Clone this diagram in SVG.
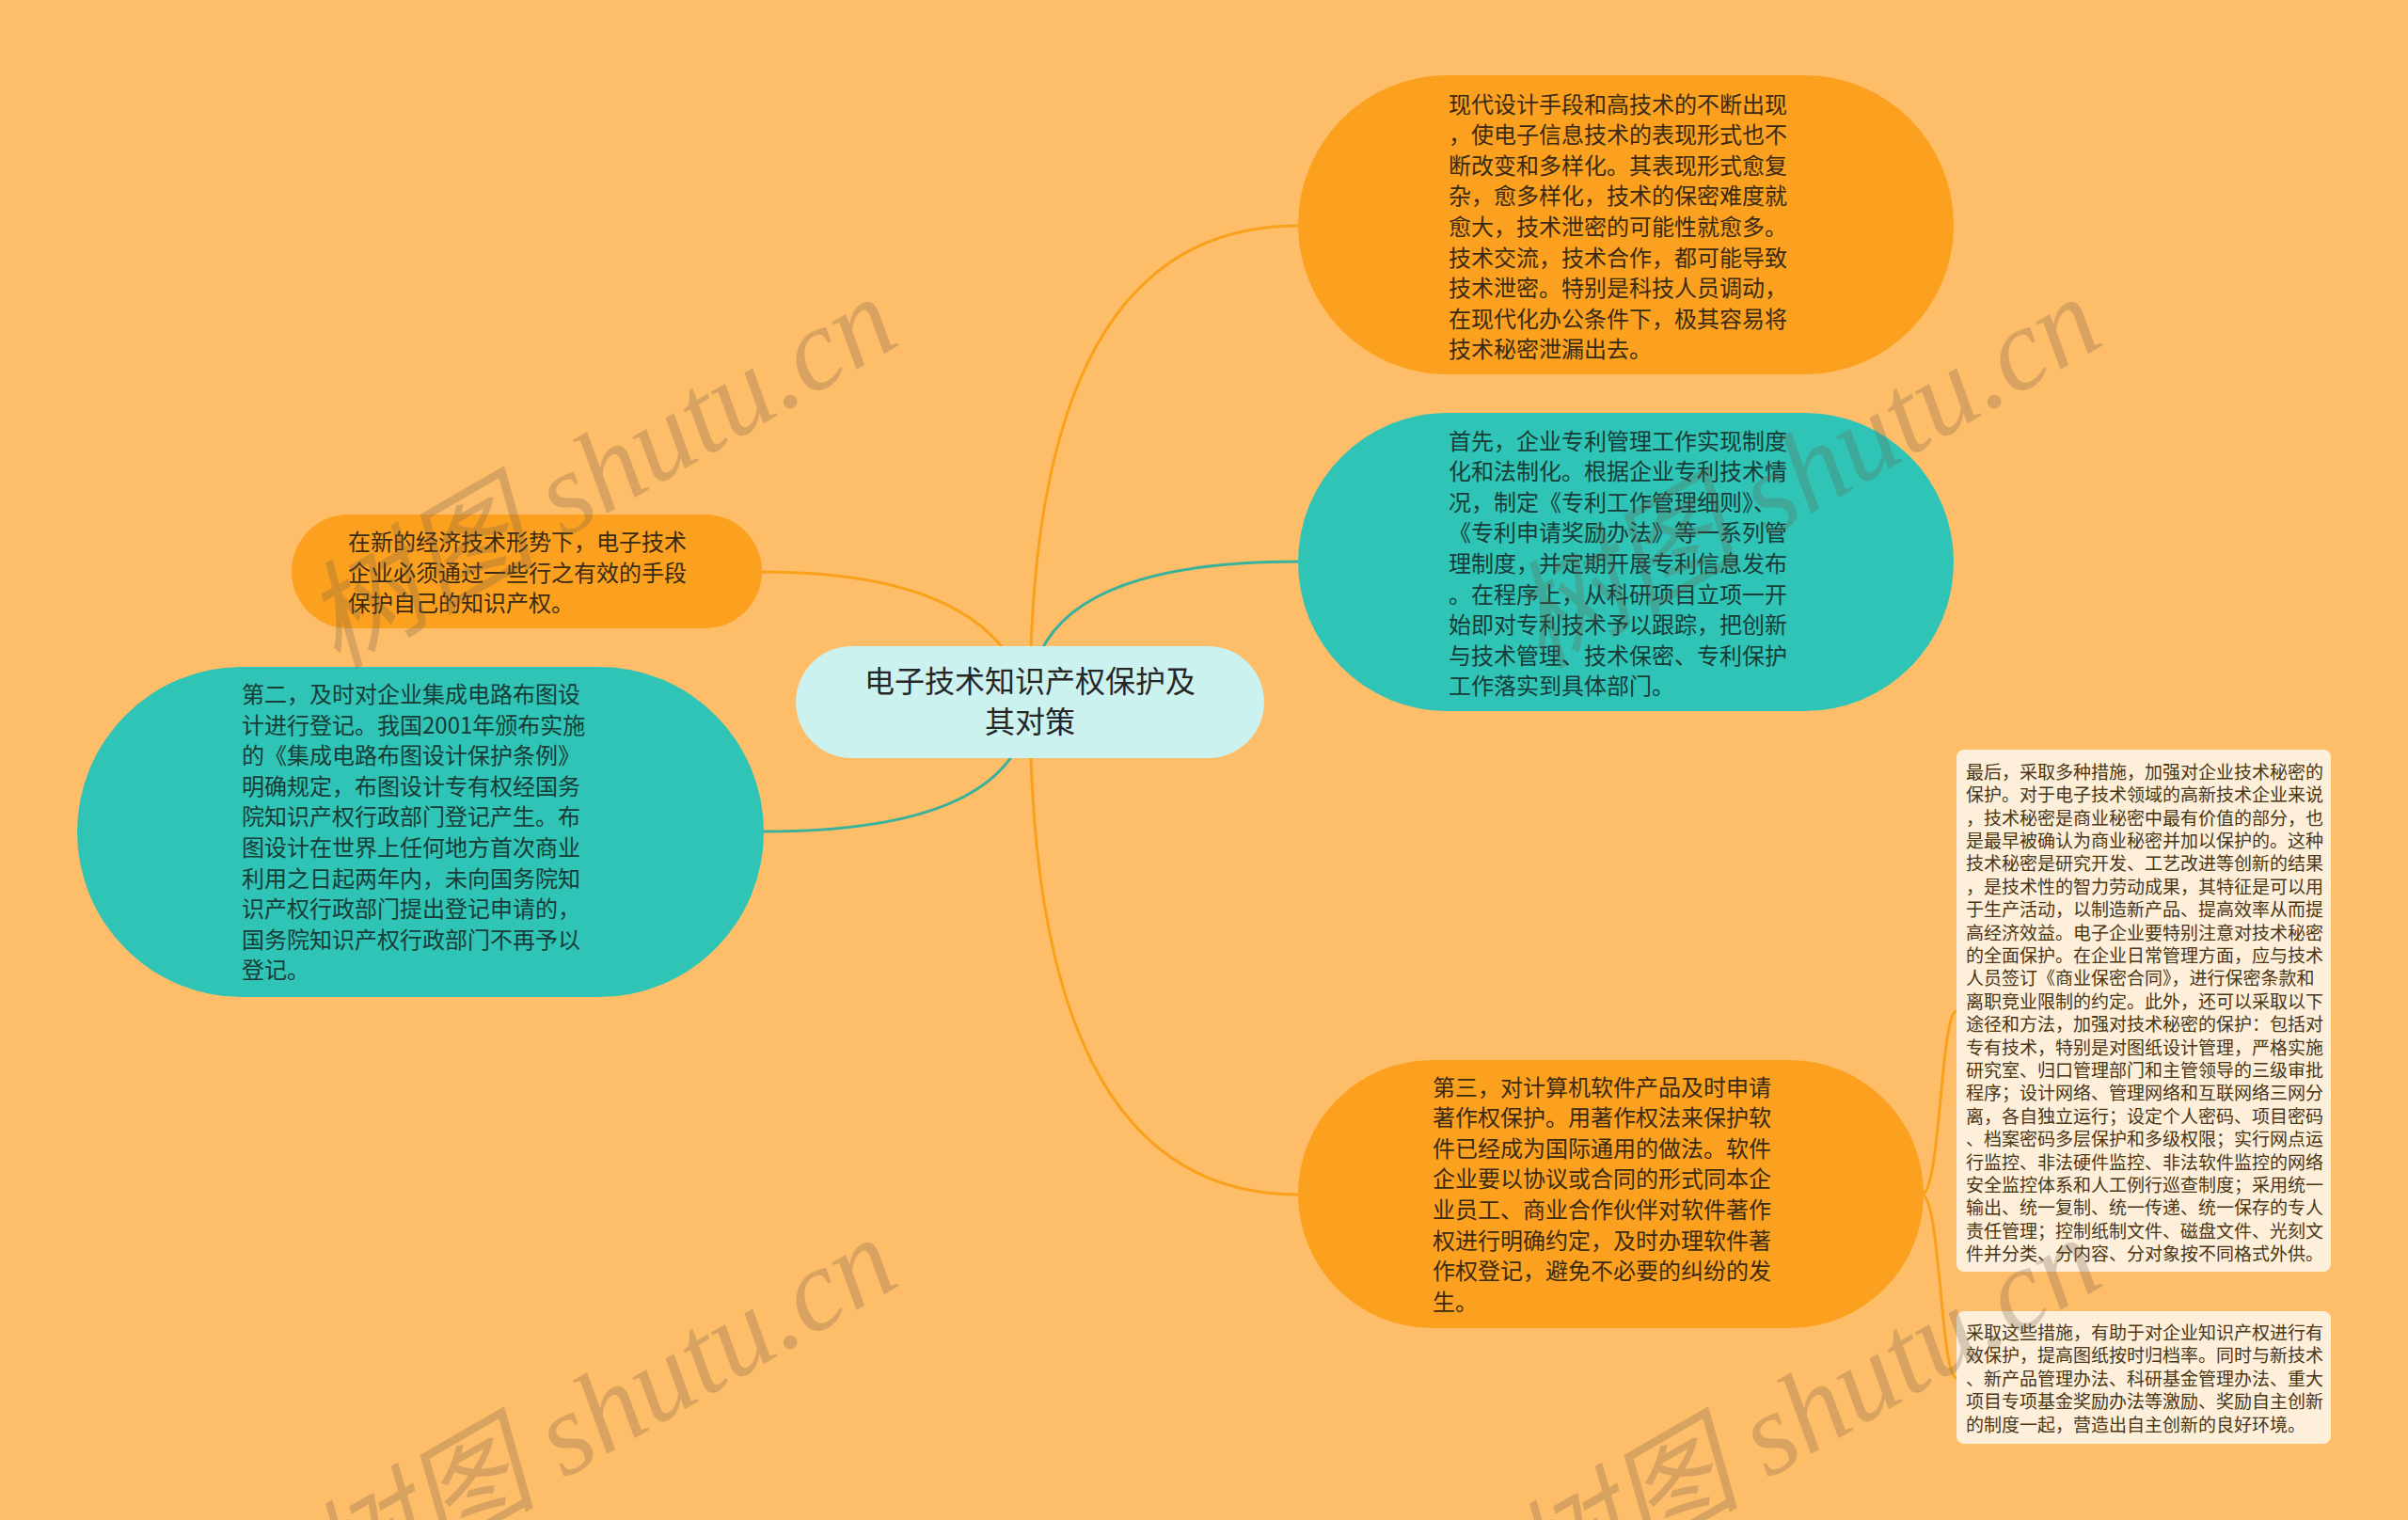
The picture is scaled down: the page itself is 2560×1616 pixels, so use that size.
<svg xmlns="http://www.w3.org/2000/svg" width="2560" height="1616" viewBox="0 0 2560 1616">
<style>
.conn-o{fill:none;stroke:#F9A11B;stroke-width:3}
.conn-t{fill:none;stroke:#3AB29B;stroke-width:3}
.n-orange{fill:#FBA11F}
.n-teal{fill:#2FC4B5}
.n-center{fill:#CBF2EF}
.n-detail{fill:#FDEFD9}
.txt{font-family:"Noto Sans CJK SC","Noto Sans",sans-serif}
.t-main{font-size:24px}
.t-o{fill:#3A2A12}
.t-t{fill:#183C37}
.t-c{font-size:32px;fill:#262626;text-anchor:middle}
.t-d{font-size:19px;fill:#4A3515}
.wm{font-family:"Liberation Serif","Noto Sans CJK SC",serif;font-style:italic;font-size:124px;fill:#6B5A48;fill-opacity:0.26}
</style>
<rect width="2560" height="1616" fill="#FEBD69"/>

<g id="connectors">
<path class="conn-o" d="M1095,747 Q1095,240 1380,240"/>
<path class="conn-t" d="M1095,747 Q1095,597 1380,597"/>
<path class="conn-o" d="M1095,747 Q1060,608 810,608"/>
<path class="conn-t" d="M1095,747 Q1085,884 812,884"/>
<path class="conn-o" d="M1095,747 Q1095,1270 1380,1270"/>
<path class="conn-o" d="M2043,1270 C2063,1270 2063,1075 2080,1075"/>
<path class="conn-o" d="M2043,1270 C2063,1270 2063,1465 2080,1465"/>
</g>

<g id="center">
<rect class="n-center" x="846" y="687" width="498" height="119" rx="59.5"/>
<text class="txt t-c" x="1095" y="736">电子技术知识产权保护及<tspan x="1095" dy="43">其对策</tspan></text>
</g>

<g id="node-xiandai">
<rect class="n-orange" x="1380" y="80" width="697" height="318" rx="159"/>
<text class="txt t-main t-o" x="1540" y="119.5"><tspan x="1540">现代设计手段和高技术的不断出现</tspan><tspan x="1540" dy="32.6">，使电子信息技术的表现形式也不</tspan><tspan x="1540" dy="32.6">断改变和多样化。其表现形式愈复</tspan><tspan x="1540" dy="32.6">杂，愈多样化，技术的保密难度就</tspan><tspan x="1540" dy="32.6">愈大，技术泄密的可能性就愈多。</tspan><tspan x="1540" dy="32.6">技术交流，技术合作，都可能导致</tspan><tspan x="1540" dy="32.6">技术泄密。特别是科技人员调动，</tspan><tspan x="1540" dy="32.6">在现代化办公条件下，极其容易将</tspan><tspan x="1540" dy="32.6">技术秘密泄漏出去。</tspan></text>
</g>

<g id="node-shouxian">
<rect class="n-teal" x="1380" y="439" width="697" height="317" rx="158.5"/>
<text class="txt t-main t-t" x="1540" y="477.5"><tspan x="1540">首先，企业专利管理工作实现制度</tspan><tspan x="1540" dy="32.6">化和法制化。根据企业专利技术情</tspan><tspan x="1540" dy="32.6">况，制定《专利工作管理细则》、</tspan><tspan x="1540" dy="32.6">《专利申请奖励办法》等一系列管</tspan><tspan x="1540" dy="32.6">理制度，并定期开展专利信息发布</tspan><tspan x="1540" dy="32.6">。在程序上，从科研项目立项一开</tspan><tspan x="1540" dy="32.6">始即对专利技术予以跟踪，把创新</tspan><tspan x="1540" dy="32.6">与技术管理、技术保密、专利保护</tspan><tspan x="1540" dy="32.6">工作落实到具体部门。</tspan></text>
</g>

<g id="node-disan">
<rect class="n-orange" x="1380" y="1127" width="665" height="285" rx="142.5"/>
<text class="txt t-main t-o" x="1523" y="1164.5"><tspan x="1523">第三，对计算机软件产品及时申请</tspan><tspan x="1523" dy="32.6">著作权保护。用著作权法来保护软</tspan><tspan x="1523" dy="32.6">件已经成为国际通用的做法。软件</tspan><tspan x="1523" dy="32.6">企业要以协议或合同的形式同本企</tspan><tspan x="1523" dy="32.6">业员工、商业合作伙伴对软件著作</tspan><tspan x="1523" dy="32.6">权进行明确约定，及时办理软件著</tspan><tspan x="1523" dy="32.6">作权登记，避免不必要的纠纷的发</tspan><tspan x="1523" dy="32.6">生。</tspan></text>
</g>

<g id="node-zaixin">
<rect class="n-orange" x="310" y="547" width="500" height="121" rx="60.5"/>
<text class="txt t-main t-o" x="370" y="585"><tspan x="370">在新的经济技术形势下，电子技术</tspan><tspan x="370" dy="32.6">企业必须通过一些行之有效的手段</tspan><tspan x="370" dy="32.6">保护自己的知识产权。</tspan></text>
</g>

<g id="node-dier">
<rect class="n-teal" x="82" y="709" width="730" height="351" rx="175.5"/>
<text class="txt t-main t-t" x="257" y="747"><tspan x="257">第二，及时对企业集成电路布图设</tspan><tspan x="257" dy="32.6">计进行登记。我国2001年颁布实施</tspan><tspan x="257" dy="32.6">的《集成电路布图设计保护条例》</tspan><tspan x="257" dy="32.6">明确规定，布图设计专有权经国务</tspan><tspan x="257" dy="32.6">院知识产权行政部门登记产生。布</tspan><tspan x="257" dy="32.6">图设计在世界上任何地方首次商业</tspan><tspan x="257" dy="32.6">利用之日起两年内，未向国务院知</tspan><tspan x="257" dy="32.6">识产权行政部门提出登记申请的，</tspan><tspan x="257" dy="32.6">国务院知识产权行政部门不再予以</tspan><tspan x="257" dy="32.6">登记。</tspan></text>
</g>

<g id="detail-zuihou">
<rect class="n-detail" x="2080" y="797" width="398" height="555" rx="8"/>
<text class="txt t-d" x="2090" y="827.7"><tspan x="2090">最后，采取多种措施，加强对企业技术秘密的</tspan><tspan x="2090" dy="24.4">保护。对于电子技术领域的高新技术企业来说</tspan><tspan x="2090" dy="24.4">，技术秘密是商业秘密中最有价值的部分，也</tspan><tspan x="2090" dy="24.4">是最早被确认为商业秘密并加以保护的。这种</tspan><tspan x="2090" dy="24.4">技术秘密是研究开发、工艺改进等创新的结果</tspan><tspan x="2090" dy="24.4">，是技术性的智力劳动成果，其特征是可以用</tspan><tspan x="2090" dy="24.4">于生产活动，以制造新产品、提高效率从而提</tspan><tspan x="2090" dy="24.4">高经济效益。电子企业要特别注意对技术秘密</tspan><tspan x="2090" dy="24.4">的全面保护。在企业日常管理方面，应与技术</tspan><tspan x="2090" dy="24.4">人员签订《商业保密合同》，进行保密条款和</tspan><tspan x="2090" dy="24.4">离职竞业限制的约定。此外，还可以采取以下</tspan><tspan x="2090" dy="24.4">途径和方法，加强对技术秘密的保护：包括对</tspan><tspan x="2090" dy="24.4">专有技术，特别是对图纸设计管理，严格实施</tspan><tspan x="2090" dy="24.4">研究室、归口管理部门和主管领导的三级审批</tspan><tspan x="2090" dy="24.4">程序；设计网络、管理网络和互联网络三网分</tspan><tspan x="2090" dy="24.4">离，各自独立运行；设定个人密码、项目密码</tspan><tspan x="2090" dy="24.4">、档案密码多层保护和多级权限；实行网点运</tspan><tspan x="2090" dy="24.4">行监控、非法硬件监控、非法软件监控的网络</tspan><tspan x="2090" dy="24.4">安全监控体系和人工例行巡查制度；采用统一</tspan><tspan x="2090" dy="24.4">输出、统一复制、统一传递、统一保存的专人</tspan><tspan x="2090" dy="24.4">责任管理；控制纸制文件、磁盘文件、光刻文</tspan><tspan x="2090" dy="24.4">件并分类、分内容、分对象按不同格式外供。</tspan></text>
</g>

<g id="detail-caiqu">
<rect class="n-detail" x="2080" y="1394" width="398" height="141" rx="8"/>
<text class="txt t-d" x="2090" y="1424"><tspan x="2090">采取这些措施，有助于对企业知识产权进行有</tspan><tspan x="2090" dy="24.4">效保护，提高图纸按时归档率。同时与新技术</tspan><tspan x="2090" dy="24.4">、新产品管理办法、科研基金管理办法、重大</tspan><tspan x="2090" dy="24.4">项目专项基金奖励办法等激励、奖励自主创新</tspan><tspan x="2090" dy="24.4">的制度一起，营造出自主创新的良好环境。</tspan></text>
</g>

<g id="watermarks">
<text class="wm" transform="translate(358,712) rotate(-30)">树图 shutu.cn</text>
<text class="wm" transform="translate(1638,712) rotate(-30)">树图 shutu.cn</text>
<text class="wm" transform="translate(358,1712) rotate(-30)">树图 shutu.cn</text>
<text class="wm" transform="translate(1638,1712) rotate(-30)">树图 shutu.cn</text>
</g>
</svg>
